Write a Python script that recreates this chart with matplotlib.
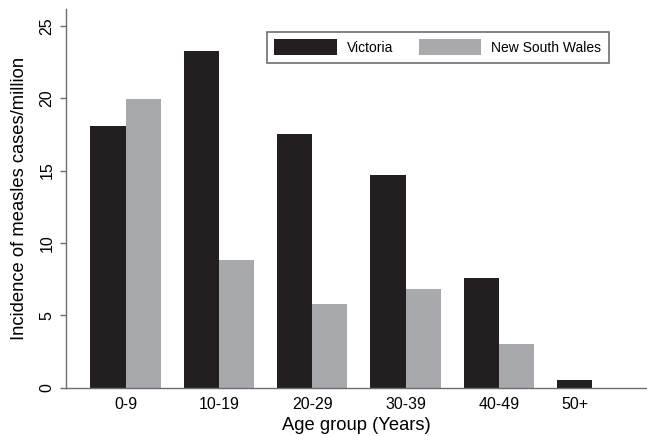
import numpy as np
import matplotlib.pyplot as plt

plt.rcParams['font.family'] = ['Liberation Sans', 'DejaVu Sans']

# incidence of measles (cases per million) by age group
age_groups = ['0-9', '10-19', '20-29', '30-39', '40-49', '50+']
victoria = [18.1, 23.25, 17.55, 14.7, 7.55, 0.55]
nsw = [19.95, 8.8, 5.8, 6.85, 3.0, np.nan]   # no NSW cases 50+

dark = '#231f20'
grey = '#a7a9ac'
axis_col = '#6d6e71'

fig = plt.figure(figsize=(6.47, 4.36), dpi=100)
ax = fig.add_axes([66/647, 48.3/436, 581/647, 379.2/436])

x = np.arange(len(age_groups))
w = 0.378
vic_x = x - w/2
nsw_x = x + w/2
nsw = np.array(nsw)
has_nsw = ~np.isnan(nsw)

ax.bar(vic_x, victoria, width=w, color=dark, label='Victoria')
ax.bar(nsw_x[has_nsw], nsw[has_nsw], width=w, color=grey, label='New South Wales')

# label each group under the bars that are present
ticks = [np.mean([vic_x[i]] + ([nsw_x[i]] if has_nsw[i] else [])) for i in x]
ax.set_xticks(ticks)
ax.set_xticklabels(age_groups, fontsize=11.5)
ax.tick_params(axis='x', length=0, pad=6.5)

ax.set_yticks(np.arange(0, 26, 5))
ax.tick_params(axis='y', direction='out', length=4.3, width=1, color=axis_col,
               labelsize=11.5, pad=4)
for lab in ax.get_yticklabels():
    lab.set_rotation(90)
    lab.set_verticalalignment('center')

ax.set_xlim(-0.639, 5.588)
ax.set_ylim(0, 26.2)

for s in ['top', 'right']:
    ax.spines[s].set_visible(False)
for s in ['left', 'bottom']:
    ax.spines[s].set_color(axis_col)
    ax.spines[s].set_linewidth(1)

ax.set_xlabel('Age group (Years)', fontsize=13.2, labelpad=4)
ax.set_ylabel('Incidence of measles cases/million', fontsize=13.2, labelpad=8)

leg = ax.legend(loc='upper left', bbox_to_anchor=(0.3454, 0.9385), borderaxespad=0,
                ncol=2, fontsize=10, frameon=True, fancybox=False,
                handlelength=4.5, handleheight=1.35, handletextpad=0.72,
                columnspacing=1.85, borderpad=0.55)
leg.get_frame().set_edgecolor(axis_col)
leg.get_frame().set_linewidth(1.2)
leg.get_frame().set_alpha(1)

fig.savefig('out.png', dpi=100)
